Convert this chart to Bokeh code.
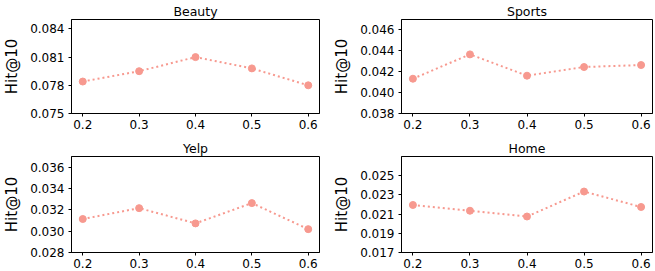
from bokeh.plotting import figure
from bokeh.layouts import gridplot
from bokeh.models import FixedTicker, PrintfTickFormatter
from bokeh.embed import file_html
from bokeh.resources import INLINE

ratios = [0.2, 0.3, 0.4, 0.5, 0.6]
titles = ["Beauty", "Sports", "Yelp", "Home"]
beauty = [0.0784, 0.0795, 0.0810, 0.0798, 0.0780]
sports = [0.04133, 0.04366, 0.04162, 0.04245, 0.04264]
yelp = [0.03114, 0.03216, 0.03073, 0.03263, 0.03019]
home = [0.02195, 0.02135, 0.02075, 0.02335, 0.02174]
y_ranges = [(0.075, 0.085), (0.038, 0.047), (0.028, 0.037), (0.017, 0.027)]
y_ticks = [[0.075, 0.078, 0.081, 0.084],
           [0.038, 0.040, 0.042, 0.044, 0.046],
           [0.028, 0.030, 0.032, 0.034, 0.036],
           [0.017, 0.019, 0.021, 0.023, 0.025]]
series = [beauty, sports, yelp, home]

COLOR = "#F7998F"
FONT = "DejaVu Sans"

# (width, height, border_left, border_right, border_top, border_bottom)
geo = [(330, 135, 62, 11, 16, 22),
       (325, 135, 67, 3, 16, 22),
       (330, 136, 62, 11, 21, 19),
       (325, 136, 67, 3, 21, 19)]

figs = []
for i in range(4):
    w, h, bl, br, bt, bb = geo[i]
    p = figure(width=w, height=h, x_range=(0.18, 0.62), y_range=y_ranges[i],
               output_backend="svg", toolbar_location=None,
               min_border_left=bl, min_border_right=br,
               min_border_top=bt, min_border_bottom=bb)
    p.title.text = titles[i]
    p.title.align = "center"
    p.title.text_font = FONT
    p.title.text_font_size = "12.5px"
    p.title.text_font_style = "normal"
    p.title.text_color = "black"
    p.title.standoff = 2
    p.title.offset = 0
    p.xgrid.visible = False
    p.ygrid.visible = False
    p.outline_line_color = "black"
    p.outline_line_width = 1
    p.outline_line_alpha = 1
    p.xaxis.ticker = FixedTicker(ticks=ratios)
    p.yaxis.ticker = FixedTicker(ticks=y_ticks[i])
    p.xaxis.formatter = PrintfTickFormatter(format="%.1f")
    p.yaxis.formatter = PrintfTickFormatter(format="%.3f")
    p.yaxis.axis_label = "Hit@10"
    for ax in (p.xaxis[0], p.yaxis[0]):
        ax.major_label_text_font = FONT
        ax.major_label_text_font_size = "12px"
        ax.major_label_text_color = "black"
        ax.major_tick_out = 3
        ax.major_tick_in = 0
        ax.minor_tick_out = 0
        ax.minor_tick_in = 0
        ax.major_tick_line_color = "black"
        ax.axis_line_color = "black"
        ax.major_label_standoff = 4
    p.yaxis.axis_label_text_font = FONT
    p.yaxis.axis_label_text_font_size = "15px"
    p.yaxis.axis_label_text_font_style = "normal"
    p.yaxis.axis_label_text_color = "black"
    p.yaxis.axis_label_standoff = 6
    p.xaxis.major_label_standoff = 3
    p.line(ratios, series[i], line_color=COLOR, line_width=2, line_dash="2 3")
    p.scatter(ratios, series[i], size=7, fill_color=COLOR, line_color=COLOR)
    figs.append(p)

grid = gridplot([[figs[0], figs[1]], [figs[2], figs[3]]], toolbar_location=None)

open("out.html", "w").write(file_html(grid, INLINE))
